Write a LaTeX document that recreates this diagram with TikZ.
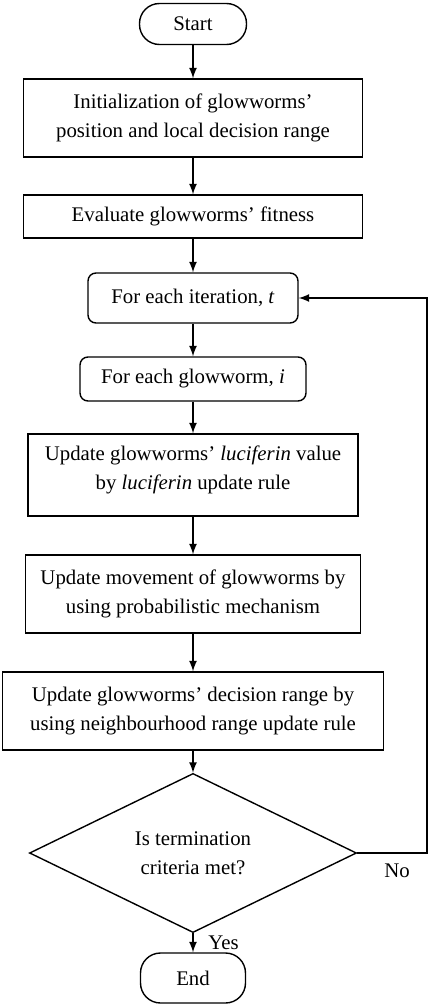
\documentclass[tikz,border=0pt]{standalone}
\usepackage{fontspec}
\setmainfont{Liberation Serif}
\usetikzlibrary{shapes.geometric,arrows}

\begin{document}
\begin{tikzpicture}[x=0.5pt,y=-0.5pt,
  font=\fontsize{10.4}{14.5}\selectfont,
  box/.style={draw,line width=0.7pt,align=center,inner sep=2pt},
  roundbox/.style={box,rounded corners=4pt},
  terminal/.style={box,rounded corners=10pt},
  decision/.style={draw,line width=0.7pt,diamond,align=center,inner sep=0pt},
  flow/.style={-latex,line width=0.8pt}]
\useasboundingbox (0,0) rectangle (430,1006);
\node[terminal,minimum width=53.5pt,minimum height=20.5pt] (start) at (193,24) {Start};
\node[box,minimum width=169.5pt,minimum height=39pt] (init) at (193,118) {Initialization of glowworms'\\position and local decision range};
\node[box,minimum width=169.5pt,minimum height=21.5pt] (eval) at (193,216.5) {Evaluate glowworms' fitness};
\node[roundbox,minimum width=105pt,minimum height=25pt] (iter) at (193,298) {For each iteration, \textit{t}};
\node[roundbox,minimum width=113pt,minimum height=22pt] (worm) at (193,379) {For each glowworm, \textit{i}};
\node[box,minimum width=165pt,minimum height=41pt] (luci) at (193,475) {Update glowworms' \textit{luciferin} value\\by \textit{luciferin} update rule\\[-7pt]};
\node[box,minimum width=167.5pt,minimum height=39pt] (move) at (193,594) {Update movement of glowworms by\\using probabilistic mechanism};
\node[box,minimum width=190.5pt,minimum height=39pt] (range) at (193,711) {Update glowworms' decision range by\\using neighbourhood range update rule};
\node[decision,minimum width=163.5pt,minimum height=64.5pt] (test) at (193,853) {Is termination\\criteria met?};
\node[terminal,minimum width=52.5pt,minimum height=25pt] (end) at (193,978) {End};
\coordinate (turn) at (427,853);

\draw[flow] (start) -- (init);
\draw[flow] (init) -- (eval);
\draw[flow] (eval) -- (iter);
\draw[flow] (iter) -- (worm);
\draw[flow] (worm) -- (luci);
\draw[flow] (luci) -- (move);
\draw[flow] (move) -- (range);
\draw[flow] (range) -- (test);
\draw[flow] (test) -- node[right,xshift=4pt] {Yes} (end);
\draw[flow] (test.east) -- (turn) |- (iter.east);
\node (no) at (397,871) {No};
\end{tikzpicture}
\end{document}
